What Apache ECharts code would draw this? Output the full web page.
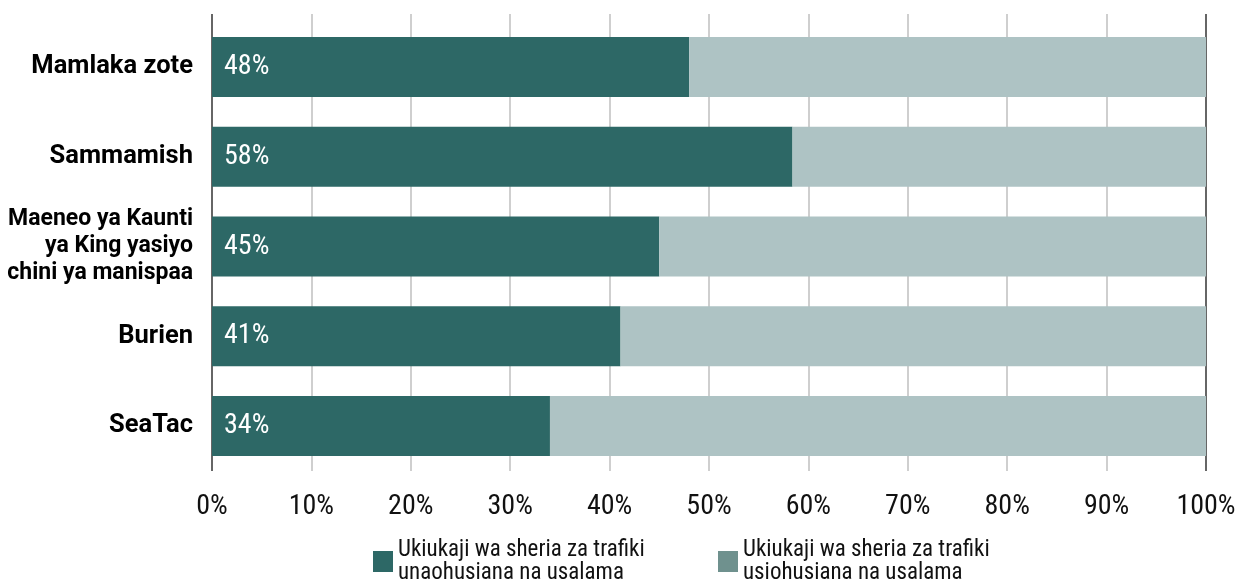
<!DOCTYPE html>
<html>
<head>
<meta charset="utf-8">
<script src="https://cdn.jsdelivr.net/npm/echarts@6/dist/echarts.min.js"></script>
<style>
  html, body { margin: 0; padding: 0; background: #fff; }
  #chart { width: 1244px; height: 581px; }
</style>
</head>
<body>
<div id="chart"></div>
<script>
// data
const categories = [
  'Mamlaka zote',
  'Sammamish',
  'Maeneo ya Kaunti\nya King yasiyo\nchini ya manispaa',
  'Burien',
  'SeaTac'
];
const safetyValues = [48, 58.4, 45, 41.1, 34];
const otherValues = [52, 41.6, 55, 58.9, 66];
const seriesNames = [
  'Ukiukaji wa sheria za trafiki\nunaohusiana na usalama',
  'Ukiukaji wa sheria za trafiki\nusiohusiana na usalama'
];
const tickLabels = ['0%', '10%', '20%', '30%', '40%', '50%', '60%', '70%', '80%', '90%', '100%'];

const narrow = '"Roboto Condensed", "Liberation Sans Narrow", "Roboto", sans-serif';
const gridColors = ['#666', '#cfcfcf', '#cfcfcf', '#cfcfcf', '#cfcfcf', '#cfcfcf', '#cfcfcf', '#cfcfcf', '#cfcfcf', '#cfcfcf', '#666'];

const legendText = { fontFamily: narrow, fontSize: 23, color: '#111', lineHeight: 23, padding: [3, 0, 0, 0] };

const chart = echarts.init(document.getElementById('chart'));
chart.setOption({
  animation: false,
  legend: [
    {
      data: [{ name: seriesNames[0], itemStyle: { color: '#2d6866' } }],
      left: 373, top: 537, itemWidth: 20, itemHeight: 21, itemGap: 5,
      icon: 'rect', padding: 0, selectedMode: false,
      textStyle: legendText
    },
    {
      data: [{ name: seriesNames[1], itemStyle: { color: '#6f918e' } }],
      left: 718, top: 537, itemWidth: 20, itemHeight: 21, itemGap: 5,
      icon: 'rect', padding: 0, selectedMode: false,
      textStyle: legendText
    }
  ],
  grid: [
    { left: 212, right: 38, top: 22, height: 449, containLabel: false },
    // short strip above the bars so the grid lines reach the top like the original
    { left: 212, right: 38, top: 14, height: 8, containLabel: false }
  ],
  xAxis: [
    {
      type: 'value',
      min: 0, max: 100, interval: 10,
      axisLine: { show: false },
      axisTick: { show: false },
      splitLine: { show: true, lineStyle: { width: 2, color: gridColors } },
      axisLabel: {
        margin: 22,
        fontFamily: narrow,
        fontSize: 28,
        color: '#111',
        formatter: (v) => tickLabels[Math.round(v / 10)]
      }
    },
    {
      type: 'value', gridIndex: 1,
      min: 0, max: 100, interval: 10,
      axisLine: { show: false },
      axisTick: { show: false },
      axisLabel: { show: false },
      splitLine: { show: true, lineStyle: { width: 2, color: gridColors } }
    }
  ],
  yAxis: [
    {
      type: 'category',
      inverse: true,
      data: categories,
      axisLine: { show: false },
      axisTick: { show: false },
      axisLabel: {
        margin: 19,
        color: '#000',
        align: 'right',
        formatter: (v) => (v.indexOf('\n') >= 0 ? '{small|' + v.split('\n').join('}\n{small|') + '}' : '{big|' + v + '}'),
        rich: {
          big: { fontFamily: 'Roboto, sans-serif', fontWeight: 'bold', fontSize: 25.5, color: '#000' },
          small: { fontFamily: 'Roboto, sans-serif', fontWeight: 'bold', fontSize: 23, lineHeight: 27, color: '#000' }
        }
      }
    },
    {
      type: 'category', gridIndex: 1,
      data: [''],
      show: false
    }
  ],
  series: [
    {
      name: seriesNames[0],
      type: 'bar',
      stack: 'total',
      barWidth: 60,
      data: safetyValues,
      itemStyle: { color: '#2d6866' },
      label: {
        show: true,
        position: 'insideLeft',
        distance: 12,
        fontFamily: narrow,
        fontSize: 28,
        color: '#fff',
        formatter: (p) => Math.round(p.value) + '%'
      }
    },
    {
      name: seriesNames[1],
      type: 'bar',
      stack: 'total',
      barWidth: 60,
      data: otherValues,
      itemStyle: { color: '#aec3c4' }
    }
  ]
});
</script>
</body>
</html>
